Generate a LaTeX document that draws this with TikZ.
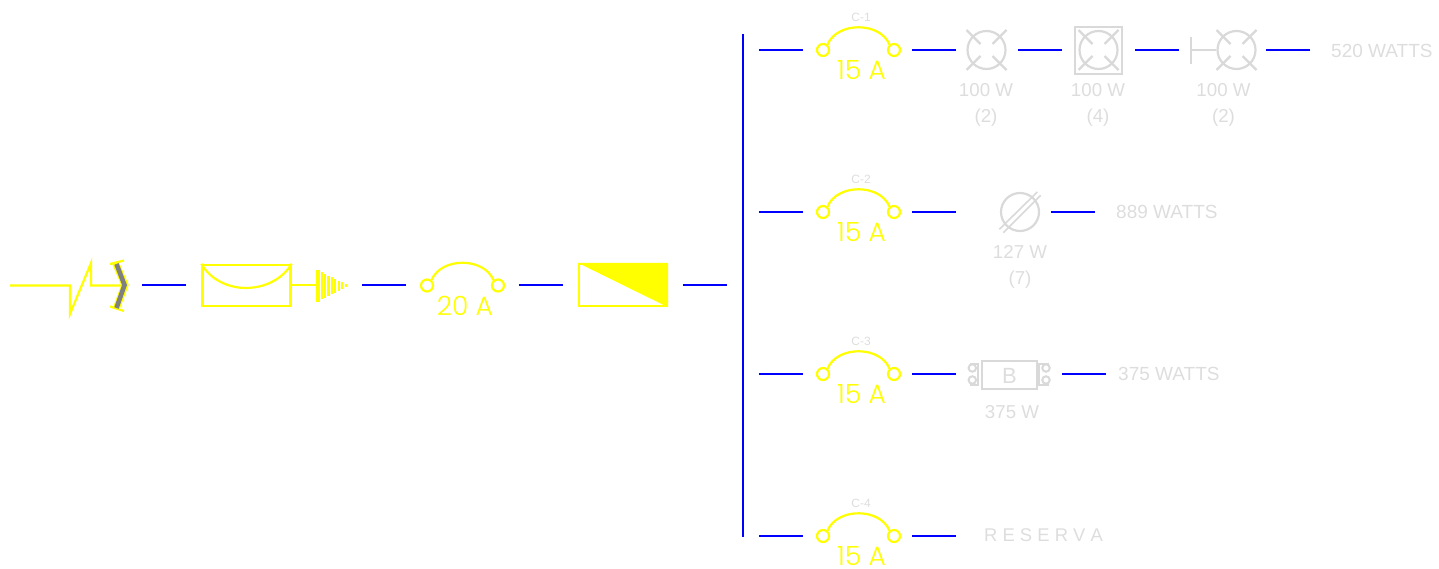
\documentclass[tikz,border=0pt]{standalone}
\usepackage{fontspec}
\setmainfont{Liberation Sans}
\newfontfamily\ampfont{Poppins Light}
\definecolor{ylw}{RGB}{255,255,0}
\definecolor{blu}{RGB}{0,0,255}
\definecolor{lgray}{RGB}{221,221,221}
\definecolor{sgray}{RGB}{217,217,217}
\tikzset{
  wire/.style={draw=blu,line width=2pt},
  sym/.style={draw=ylw,line width=2.2pt},
  lamp/.style={draw=sgray,line width=2.2pt},
  term/.style={circle,draw=ylw,line width=2.2pt,minimum size=12pt,inner sep=0pt,fill=white},
  lbl/.style={text=lgray,font=\fontsize{18.7}{18.7}\selectfont,inner sep=0pt},
  tot/.style={text=lgray,font=\fontsize{19}{19}\selectfont,inner sep=0pt,anchor=west},
  ccode/.style={text=lgray,font=\fontsize{12}{12}\selectfont,inner sep=0pt},
  amp/.style={text=ylw,font=\ampfont\fontsize{26.5}{26.5}\selectfont,inner sep=0pt},
  lampc/.style={circle,draw=sgray,line width=2.2pt,minimum size=38pt,inner sep=0pt},
  coil/.style={circle,draw=sgray,line width=2pt,minimum size=7.5pt,inner sep=0pt},
}
\newcommand{\wseg}[4]{% name, x1, x2, y
  \coordinate (#1a) at (#2,#4);\coordinate (#1b) at (#3,#4);
  \draw[wire] (#1a) -- (#1b);}
\newcommand{\fuse}[3]{% name, left x, y
  \node[term] (#1l) at (#2,#3) {};
  \node[term] (#1r) at (#2+71,#3) {};
  \draw[sym] (#1l.50) .. controls (#2+14,#3-28.5) and (#2+57,#3-28.5) .. (#1r.130);}
\newcommand{\xlamp}[3]{% name, x, y
  \node[lampc] (#1) at (#2,#3) {};
  \draw[lamp] (#2-20,#3-20) -- (#2-6,#3-6) (#2+20,#3-20) -- (#2+6,#3-6)
              (#2-20,#3+20) -- (#2-6,#3+6) (#2+20,#3+20) -- (#2+6,#3+6);}
\begin{document}
\begin{tikzpicture}[x=1pt,y=-1pt]
\useasboundingbox (0,0) rectangle (1439,569);
% service entry
\draw[sym,line join=miter] (10,285.5) -- (70,285.5) -- (70,314) -- (91,263) -- (91,285.5) -- (121,285.5);
\draw[sym] (110,264) -- (124,260.5) (110,306.5) -- (124,311);
\draw[draw=ylw,line width=7pt] (115.5,263) -- (125,285) -- (116.5,308);
\draw[draw=gray,line width=4.6pt] (116.5,264) -- (124.5,285) -- (116.5,308);
\wseg{m1}{142}{186}{285}
% meter box
\node[draw=ylw,line width=2.4pt,minimum width=88pt,minimum height=41pt,inner sep=0pt] (meter) at (246.5,285.5) {};
\draw[sym] (meter.north west) .. controls (220,296) and (272,296) .. (meter.north east);
\coordinate (gnd) at (316,285);
\draw[sym] (meter.east |- gnd) -- (gnd);
\foreach \xa/\xb/\h in {315.5/319.5/16,320.5/323/13.5,324/326.2/12,327.3/329.5/10,330.5/332.7/8.5,334/336/7,337.5/339.5/5,341/343/3.5,344.5/346.5/1.8}
  \fill[ylw] (\xa,285.5-\h) rectangle (\xb,285.5+\h);
\wseg{m2}{362}{406}{285}
\fuse{mf}{427}{285.5}
\node[amp] (mfa) at (465,305.5) {20 A};
\wseg{m3}{519}{563}{285}
% main switch
\node[draw=ylw,line width=2.4pt,minimum width=88pt,minimum height=42pt,inner sep=0pt] (sw) at (623,285) {};
\fill[ylw] (sw.north west) -- (sw.north east) -- (sw.south east) -- cycle;
\wseg{m4}{683}{727}{285}
% bus
\coordinate (bust) at (743,34);\coordinate (busb) at (743,537);
\draw[wire] (bust) -- (busb);
% circuits
\foreach \n/\y in {1/50,2/212,3/374,4/536}{
  \wseg{r\n a}{759}{803}{\y}
  \fuse{f\n}{823}{\y}
  \node[amp] (a\n) at (861.5,\y+20) {15 A};
  \node[ccode] (c\n) at (861,\y-33) {C-\n};
  \wseg{r\n b}{912}{956}{\y}
}
% row 1
\xlamp{l1}{986.5}{50}
\node[lbl] (l1p) at (986,90) {100 W};
\node[lbl] (l1q) at (986,118) {(2)};
\wseg{r1c}{1018}{1062}{50}
\xlamp{l2}{1098.5}{50}
\node[lamp,minimum width=47pt,minimum height=47pt,inner sep=0pt] (l2b) at (1098.5,50.5) {};
\node[lbl] (l2p) at (1098,90) {100 W};
\node[lbl] (l2q) at (1098,118) {(4)};
\wseg{r1d}{1135}{1179}{50}
\xlamp{l3}{1236.5}{50}
\coordinate (l3s) at (1191,50);
\draw[lamp] (l3s) -- (l3) (1191,37) -- (1191,64);
\node[lbl] (l3p) at (1223.5,90) {100 W};
\node[lbl] (l3q) at (1223.5,118) {(2)};
\wseg{r1e}{1266}{1310}{50}
\node[tot] (t1) at (1331,50.5) {520 WATTS};
% row 2
\node[lampc] (l4) at (1020,212) {};
\draw[lamp,line width=1.6pt] (999.3,229.3) -- (1037.3,192) (1003.3,232.7) -- (1040.7,195.3);
\node[lbl] (l4p) at (1020,252) {127 W};
\node[lbl] (l4q) at (1020,280) {(7)};
\wseg{r2c}{1051}{1095}{212}
\node[tot] (t2) at (1116,211.5) {889 WATTS};
% row 3
\node[lamp,minimum width=55pt,minimum height=28pt,inner sep=0pt] (bx) at (1009.5,375) {};
\node[lbl,font=\fontsize{22}{22}\selectfont] (bt) at (1009.5,375.5) {B};
\foreach \s/\xb/\xc/\xo in {L/977.5/972.3/969.5,R/1039/1046/1049}{
  \node[coil] (u\s) at (\xc,368) {};
  \node[coil] (d\s) at (\xc,380) {};
  \draw[lamp,line width=2pt] (\xo,364) -- (\xb,364) -- (\xb,385) -- (\xo,385);
}
\node[lbl] (l5p) at (1012,412) {375 W};
\wseg{r3c}{1062}{1106}{374}
\node[tot] (t3) at (1118,373.5) {375 WATTS};
% row 4
\node[lbl,anchor=west,font=\fontsize{18.4}{18.4}\selectfont] (t4) at (984,535.5) {R E S E R V A};
\end{tikzpicture}
\end{document}
